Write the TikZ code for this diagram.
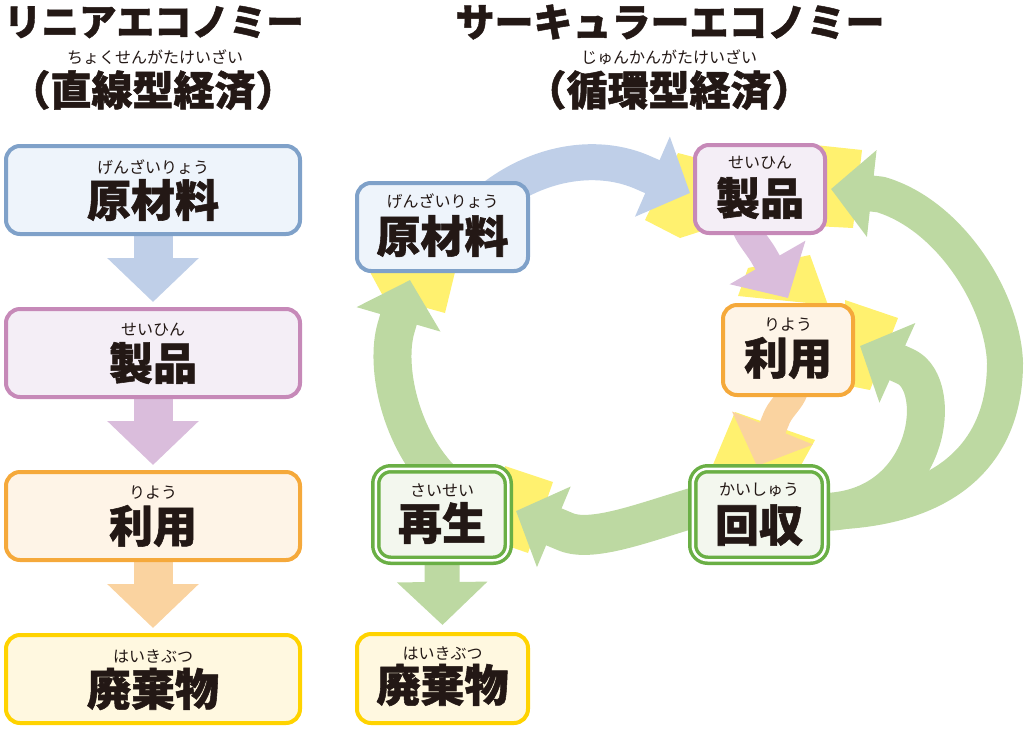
\documentclass[tikz,border=0pt]{standalone}
\usepackage{fontspec}
\setmainfont{Noto Sans CJK JP}[BoldFeatures={FakeBold=1.2}]
\usetikzlibrary{arrows.meta,calc}
\definecolor{ink}{HTML}{231815}
\definecolor{bbd}{HTML}{7FA1C9}\definecolor{bbf}{HTML}{EEF4FB}
\definecolor{pbd}{HTML}{C689B8}\definecolor{pbf}{HTML}{F4EEF6}
\definecolor{obd}{HTML}{F5A93B}\definecolor{obf}{HTML}{FEF4E7}
\definecolor{ybd}{HTML}{FFD300}\definecolor{ybf}{HTML}{FFF8E0}
\definecolor{gbd}{HTML}{6AAF45}\definecolor{gbf}{HTML}{F3F7EE}
\definecolor{arb}{HTML}{BFCFE8}\definecolor{arp}{HTML}{DABDDC}
\definecolor{aro}{HTML}{FAD3A0}\definecolor{arg}{HTML}{BDD9A2}
\definecolor{burst}{HTML}{FFF16F}
\pgfdeclarelayer{yl}\pgfdeclarelayer{ar}\pgfsetlayers{yl,ar,main}
\begin{document}
\begin{tikzpicture}[x=1pt,y=-1pt,
  box/.style={draw, rounded corners=14pt, line width=4pt, inner sep=0pt},
  dbox/.style={draw=gbd, double=white, double distance=2.5pt, line width=3.5pt, fill=gbf, rounded corners=15pt, inner sep=0pt, minimum width=132.5pt, minimum height=91.5pt},
  wide/.style={minimum width=294pt, minimum height=88pt},
  rbox/.style={minimum width=171pt, minimum height=88pt},
  sbox/.style={minimum width=130pt, minimum height=88pt},
  ruby/.style={font=\fontsize{16pt}{16pt}\selectfont, text=ink, inner sep=0pt},
  big/.style={font=\bfseries\fontsize{44pt}{44pt}\selectfont, text=ink, inner sep=0pt},
  ttl/.style={font=\bfseries\fontsize{37.5pt}{37.5pt}\selectfont, text=ink, inner sep=0pt},
  ttlp/.style={font=\bfseries\fontsize{41pt}{41pt}\selectfont, text=ink, inner sep=0pt},
  larr/.style={line width=39pt, -{Triangle[length=44pt,width=89pt]}},
  carr/.style={line width=37pt, line join=round, -{Triangle[length=41pt,width=85pt]}},
  yb/.style={fill=burst}]
\useasboundingbox (0,0) rectangle (1025,729);
% titles
\node[ttl] (t1) at (154,22) {リニアエコノミー};
\node[ruby] (t1r) at (155,57) {ちょくせんがたけいざい};
\node[ttlp] (t1p) at (153,90) {（直線型経済）};
\node[ttl, font=\bfseries\fontsize{39pt}{39pt}\selectfont] (t2) at (670,22) {サーキュラーエコノミー};
\node[ruby] (t2r) at (669,57) {じゅんかんがたけいざい};
\node[ttlp] (t2p) at (669,90) {（循環型経済）};
% left column
\node[box, wide, draw=bbd, fill=bbf] (L1) at (153,190) {};
\node[box, wide, draw=pbd, fill=pbf] (L2) at (153,353) {};
\node[box, wide, draw=obd, fill=obf] (L3) at (153,516) {};
\node[box, wide, draw=ybd, fill=ybf] (L4) at (153,679) {};
\node[ruby] (L1r) at (153,167) {げんざいりょう};
\node[big] (L1m) at (153,200) {原材料};
\node[ruby] (L2r) at (153,330) {せいひん};
\node[big] (L2m) at (153,363) {製品};
\node[ruby] (L3r) at (153,493) {りよう};
\node[big] (L3m) at (153,526) {利用};
\node[ruby] (L4r) at (153,656) {はいきぶつ};
\node[big] (L4m) at (153,689) {廃棄物};
% right side
\node[box, rbox, draw=bbd, fill=bbf] (R1) at (442.5,227) {};
\node[box, sbox, draw=pbd, fill=pbf] (R2) at (760,189) {};
\node[box, sbox, minimum height=90pt, draw=obd, fill=obf] (R3) at (788,350) {};
\node[dbox] (R4) at (759,514.5) {};
\node[dbox] (R5) at (442,514.5) {};
\node[box, rbox, minimum height=89pt, draw=ybd, fill=ybf] (R6) at (442.5,678.5) {};
\node[ruby] (R1r) at (442.5,201) {げんざいりょう};
\node[big] (R1m) at (442.5,236) {原材料};
\node[ruby] (R2r) at (760,163) {せいひん};
\node[big] (R2m) at (760,198) {製品};
\node[ruby] (R3r) at (788,325) {りよう};
\node[big] (R3m) at (788,358) {利用};
\node[ruby] (R4r) at (759,490) {かいしゅう};
\node[big] (R4m) at (759,525) {回収};
\node[ruby] (R5r) at (442,490) {さいせい};
\node[big] (R5m) at (442,523) {再生};
\node[ruby] (R6r) at (442.5,653) {はいきぶつ};
\node[big] (R6m) at (442.5,685) {廃棄物};
% yellow bursts
\begin{pgfonlayer}{yl}
\fill[yb] (678,153) -- (645,220) -- (680,238) -- (705,230) -- (705,160) -- cycle;
\fill[yb] (815,145) -- (862,150) -- (853,228) -- (815,226) -- cycle;
\fill[yb] (845,300) -- (898,318) -- (870,390) -- (845,385) -- cycle;
\fill[yb] (738,296) -- (748,268) -- (810,255) -- (828,305) -- cycle;
\fill[yb] (735,412) -- (712,467) -- (800,467) -- (815,440) -- cycle;
\fill[yb] (505,466) -- (553,482) -- (528,553) -- (505,545) -- cycle;
\fill[yb] (370,272) -- (383,296) -- (445,313) -- (456,268) -- cycle;
\end{pgfonlayer}
% arrows
\begin{pgfonlayer}{ar}
\draw[larr, arb] (L1.south) -- ($(L2.north)+(0,-5)$);
\draw[larr, arp] (L2.south) -- ($(L3.north)+(0,-5)$);
\draw[larr, aro] (L3.south) -- ($(L4.north)+(0,-5)$);
\draw[line width=35pt, -{Triangle[length=43pt,width=88pt]}, arg] (R5.south) -- ($(R6.north)+(0,-7)$);
\draw[carr, arb, line width=36pt] ($(R1.east)+(-40,-27)$) .. controls (540,160) and (600,153) .. (644,173) -- ($(R2.west)+(-3,4)$);
\draw[carr, arp, line width=28pt] ($(R2.south)+(-15,-10)$) .. controls (748,235) and (755,242) .. (763,254.5) -- ($(R3.north)+(0,-5)$);
\draw[carr, aro, line width=28pt] ($(R3.south)+(7,-12)$) .. controls (795,397) and (782,406) .. (777,417) -- ($(R4.north)+(-2,-1)$);
\draw[carr, arg, line width=40pt] ($(R4.west)+(12,-9.5)$) .. controls (650,520) and (592.6,543.8) .. (565,531.5) -- ($(R5.east)+(6,-3.5)$);
\draw[carr, arg, line width=38pt] ($(R5.north)+(3,16)$) .. controls (400,440) and (384.8,366.4) .. (396,328) -- ($(R1.south)+(-32.5,7)$);
\draw[carr, arg, line width=38pt] ($(R4.east)+(-10,-2.5)$) .. controls (930,515) and (946.5,385) .. (905.5,366.5) -- ($(R3.east)+(5,-4)$);
\draw[carr, arg, line width=36pt] ($(R4.east)+(-10,-2.5)$) .. controls (950,512) and (1005,450) .. (1005,363) .. controls (1003,300) and (950,215) .. (880.5,194.5) -- ($(R2.east)+(4,0)$);
\end{pgfonlayer}
\end{tikzpicture}
\end{document}
